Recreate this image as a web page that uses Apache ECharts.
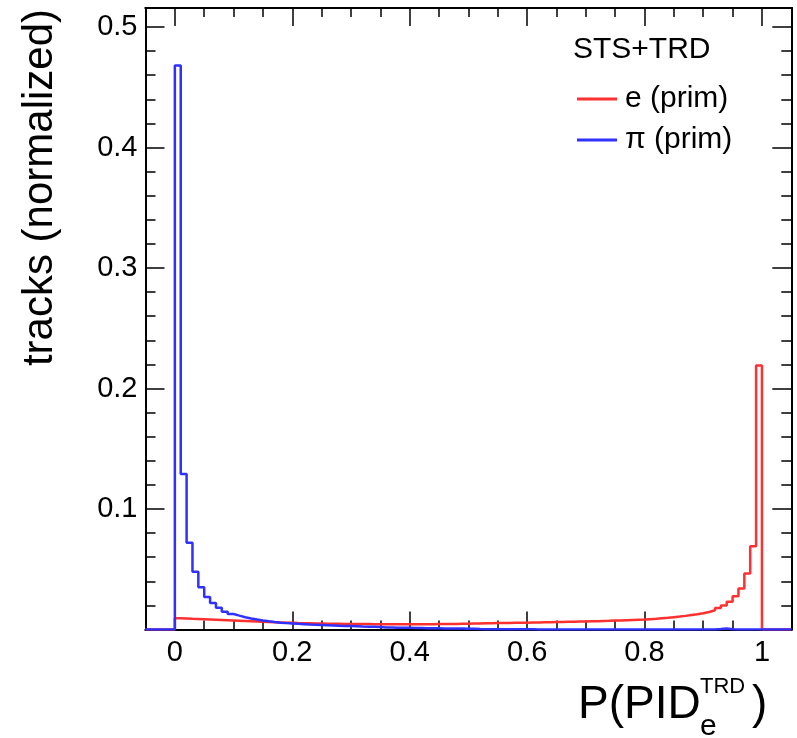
<!DOCTYPE html>
<html><head><meta charset="utf-8">
<script src="https://cdn.jsdelivr.net/npm/echarts@6/dist/echarts.min.js"></script>
<style>html,body{margin:0;padding:0;background:#fff}#c{width:797px;height:738px}</style>
</head><body><div id="c"></div>
<script>
// ---- data ----
const binWidth = 0.01;
const electronPrim = [
  0.0094, 0.0092, 0.0089, 0.0087, 0.0085, 0.0083, 0.0081, 0.0079, 0.0077, 0.0075,
  0.0073, 0.0071, 0.0069, 0.0067, 0.0065, 0.0063, 0.0061, 0.0059, 0.0057, 0.0055,
  0.0053, 0.0052, 0.0051, 0.0050, 0.0049, 0.0048, 0.0047, 0.0047, 0.0046, 0.0046,
  0.0045, 0.0045, 0.0045, 0.0044, 0.0044, 0.0044, 0.0044, 0.0043, 0.0043, 0.0043,
  0.0043, 0.0044, 0.0044, 0.0044, 0.0045, 0.0045, 0.0046, 0.0046, 0.0047, 0.0048,
  0.0049, 0.0050, 0.0051, 0.0052, 0.0053, 0.0053, 0.0054, 0.0055, 0.0056, 0.0057,
  0.0058, 0.0059, 0.0060, 0.0061, 0.0062, 0.0063, 0.0064, 0.0065, 0.0066, 0.0067,
  0.0068, 0.0069, 0.0071, 0.0072, 0.0074, 0.0075, 0.0077, 0.0079, 0.0081, 0.0083,
  0.0086, 0.0089, 0.0093, 0.0097, 0.0102, 0.0107, 0.0113, 0.0120, 0.0127, 0.0135,
  0.0145, 0.0160, 0.0178, 0.0200, 0.0230, 0.0275, 0.0340, 0.0465, 0.0690, 0.2190
];
const pionPrim = [
  0.468, 0.129, 0.072, 0.048, 0.035, 0.027, 0.022, 0.018, 0.0148, 0.0129,
  0.0115, 0.0102, 0.0092, 0.0083, 0.0075, 0.0068, 0.0062, 0.0057, 0.0053, 0.0050,
  0.0047, 0.0044, 0.0041, 0.0039, 0.0037, 0.0035, 0.0033, 0.0031, 0.0030, 0.0029,
  0.0027, 0.0024, 0.0023, 0.0022, 0.0021, 0.0017, 0.0016, 0.0015, 0.0015, 0.0014,
  0.0013, 0.0012, 0.0011, 0.0010, 0.0010, 0.0009, 0.0009, 0.0008, 0.0008, 0.0007,
  0.0006, 0.0004, 0.0003, 0.0003, 0.0003, 0.0002, 0.0002, 0.0002, 0.0002, 0.0002,
  0.0002, 0.0001, 0.0001, 0.0001, 0.0001, 0.0001, 0.0001, 0.0001, 0.0001, 0.0001,
  0.0001, 0.0001, 0.0001, 0.0001, 0.0001, 0.0001, 0.0001, 0.0001, 0.0001, 0.0001,
  0.0001, 0.0001, 0.0001, 0.0001, 0.0001, 0.0001, 0.0001, 0.0001, 0.0001, 0.0001,
  0.0001, 0.0001, 0.0004, 0.0009, 0.0003, 0.0001, 0.0001, 0.0001, 0.0001, 0.0001
];
const seriesNames = ['e (prim)', 'π (prim)'];
const legendTitle = 'STS+TRD';
const xTickValues = [0, 0.2, 0.4, 0.6, 0.8, 1];
const yTickValues = [0.1, 0.2, 0.3, 0.4, 0.5];
const xRange = [-0.05, 1.05];
const yRange = [0, 0.5158];
const yTitle = 'tracks (normalized)';

// ---- build ----
function histPoints(vals) {
  const pts = [[xRange[0], 0]];
  vals.forEach((v, i) => pts.push([+(i * binWidth).toFixed(4), v]));
  pts.push([+(vals.length * binWidth).toFixed(4), 0]);
  pts.push([xRange[1], 0]);
  return pts;
}
const FONT = '"Liberation Sans", Arial, Helvetica, sans-serif';
const lineBlack = {color: '#000', width: 2};
const tickStyle = {color: '#000', width: 1.5};

function xAxisDef(pos, major, withLabels) {
  const a = {
    type: 'value', position: pos, min: xRange[0], max: xRange[1],
    axisLine: {show: true, onZero: false, lineStyle: lineBlack},
    splitLine: {show: false},
    axisTick: {show: true, inside: true, length: major ? 18 : 9, lineStyle: tickStyle},
    axisLabel: {show: false}
  };
  if (major) { a.axisTick.customValues = xTickValues; }
  else { a.interval = 0.05; }
  if (withLabels) {
    a.axisLabel = {show: true, customValues: xTickValues, margin: 9, fontSize: 29,
      color: '#000', fontFamily: FONT};
  }
  return a;
}
function yAxisDef(pos, major, withLabels) {
  const a = {
    type: 'value', position: pos, min: yRange[0], max: yRange[1],
    axisLine: {show: true, onZero: false, lineStyle: lineBlack},
    splitLine: {show: false},
    axisTick: {show: true, inside: true, length: major ? 19 : 10, lineStyle: tickStyle},
    axisLabel: {show: false}
  };
  if (major) { a.axisTick.customValues = yTickValues; }
  else { a.interval = 0.02; }
  if (withLabels) {
    a.axisLabel = {show: true, customValues: yTickValues, margin: 8, fontSize: 29,
      color: '#000', fontFamily: FONT};
  }
  return a;
}

const chart = echarts.init(document.getElementById('c'), null, {renderer: 'canvas'});
chart.setOption({
  animation: false,
  backgroundColor: '#fff',
  grid: {left: 145.5, right: 5.7, top: 8, bottom: 108.5, containLabel: false},
  xAxis: [xAxisDef('bottom', true, true), xAxisDef('bottom', false, false),
          xAxisDef('top', true, false), xAxisDef('top', false, false)],
  yAxis: [yAxisDef('left', true, true), yAxisDef('left', false, false),
          yAxisDef('right', true, false), yAxisDef('right', false, false)],
  legend: {
    data: seriesNames, orient: 'vertical', left: 572, top: 79,
    itemWidth: 40, itemHeight: 3, icon: 'rect', itemGap: 11,
    textStyle: {fontSize: 30, fontFamily: FONT, color: '#000', padding: [0, 0, 0, 3]}
  },
  series: [
    {name: seriesNames[0], type: 'line', step: 'end', showSymbol: false, symbol: 'none',
     data: histPoints(electronPrim), xAxisIndex: 0, yAxisIndex: 0,
     lineStyle: {color: '#ff3030', width: 2.5}, itemStyle: {color: '#ff3030'}, z: 3},
    {name: seriesNames[1], type: 'line', step: 'end', showSymbol: false, symbol: 'none',
     data: histPoints(pionPrim), xAxisIndex: 0, yAxisIndex: 0,
     lineStyle: {color: '#3030ff', width: 2.5}, itemStyle: {color: '#3030ff'}, z: 4}
  ],
  graphic: [
    {type: 'text', left: 573, top: 35, style: {text: legendTitle, fontSize: 30, fontFamily: FONT, fill: '#000'}},
    {type: 'text', x: 40, y: 9, rotation: Math.PI / 2,
     style: {text: yTitle, fontSize: 42, fontFamily: FONT, fill: '#000', align: 'right', verticalAlign: 'middle'}},
    {type: 'text', x: 578, y: 705,
     style: {text: 'P(PID', fontSize: 46, fontFamily: FONT, fill: '#000', align: 'left', verticalAlign: 'middle'}},
    {type: 'text', x: 700, y: 687,
     style: {text: 'TRD', fontSize: 22, fontFamily: FONT, fill: '#000', align: 'left', verticalAlign: 'middle'}},
    {type: 'text', x: 700, y: 727,
     style: {text: 'e', fontSize: 30, fontFamily: FONT, fill: '#000', align: 'left', verticalAlign: 'middle'}},
    {type: 'text', x: 752, y: 705,
     style: {text: ')', fontSize: 46, fontFamily: FONT, fill: '#000', align: 'left', verticalAlign: 'middle'}}
  ]
});
</script></body></html>
